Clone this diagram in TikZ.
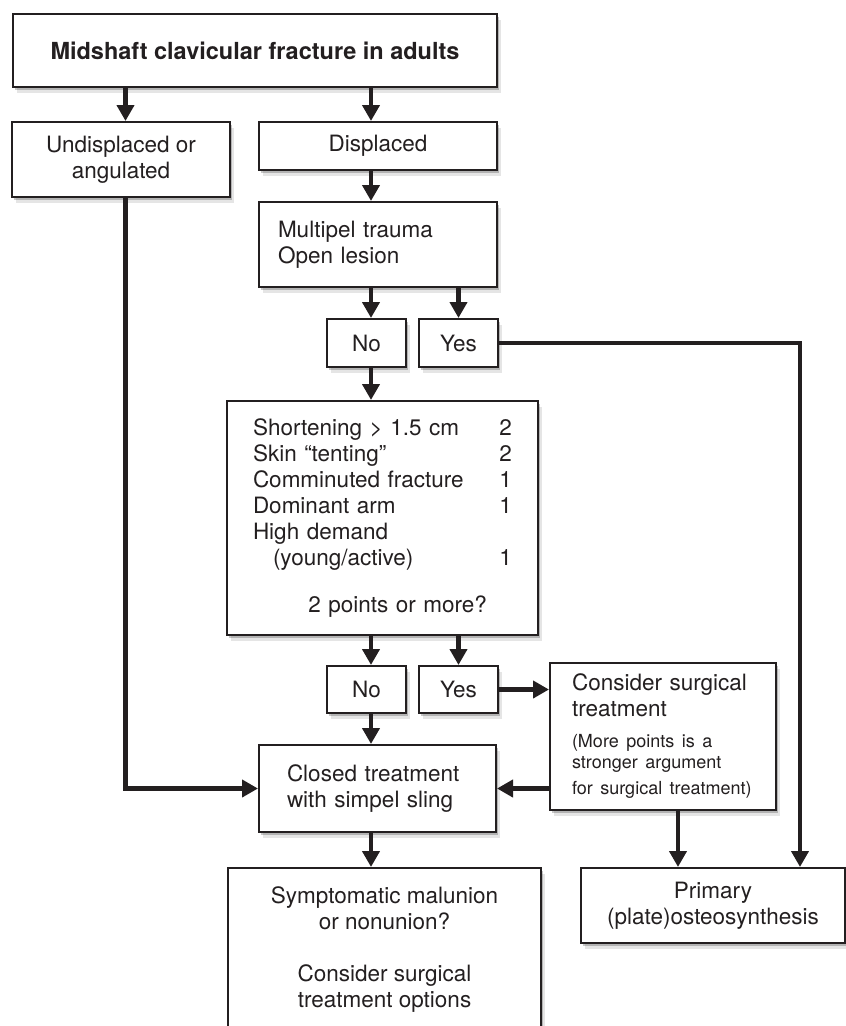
\documentclass[tikz,border=0pt]{standalone}
\usepackage{fontspec}
\setmainfont{TeX Gyre Heros}
\usetikzlibrary{arrows.meta, shadows}
\definecolor{ink}{RGB}{35,31,32}

\begin{document}
\begin{tikzpicture}[x=1pt, y=1pt]
\useasboundingbox (0,0) rectangle (846,-1026);
\clip (0,0) rectangle (846,-1026);

\coordinate (leftline) at (125.5,0);
\coordinate (axis) at (371,0);
\coordinate (surgline) at (678,0);
\coordinate (rightline) at (800,0);

\begin{scope}[every node/.style={rectangle,draw=ink,line width=2pt,fill=white,text=ink,inner sep=0pt,align=center,
              font=\fontsize{22.5}{26}\selectfont,
              drop shadow={shadow xshift=2pt,shadow yshift=-3pt,opacity=.22,fill=black},
              drop shadow={shadow xshift=4pt,shadow yshift=-6pt,opacity=.1,fill=black}}]
    \node (fracture) at (255, -50.5) [minimum width=484pt, minimum height=73pt, font=\fontsize{23.5}{26}\selectfont\bfseries] {Midshaft clavicular fracture in adults};

    \node (undisplaced) at (121, -159.5) [minimum width=218pt, minimum height=75pt] {Undisplaced or\\angulated};
    \node (displaced) at (378, -146) [minimum width=238pt, minimum height=48pt] {Displaced};

    \node (trauma) at (378, -244.5) [minimum width=238pt, minimum height=85pt, text width=200pt, align=left] {Multipel trauma\\Open lesion};

    \node (no1) at (366.5, -343) [minimum width=79pt, minimum height=48pt] {No};
    \node (yes1) at (458.5, -343) [minimum width=79pt, minimum height=48pt] {Yes};

    \node (score) at (382.5, -518) [minimum width=311pt, minimum height=234pt, text width=259pt, align=left]
        {Shortening > 1.5 cm\hfill 2\hspace*{12pt}\\
         Skin “tenting”\hfill 2\hspace*{12pt}\\
         Comminuted fracture\hfill 1\hspace*{12pt}\\
         Dominant arm\hfill 1\hspace*{12pt}\\
         High demand\\
         \hspace*{20pt}(young/active)\hfill 1\hspace*{12pt}\\[21pt]
         \mbox{}\hfill 2 points or more?\hspace*{25pt}};

    \node (no2) at (366.5, -689.5) [minimum width=79pt, minimum height=47pt] {No};
    \node (yes2) at (458.5, -689.5) [minimum width=79pt, minimum height=47pt] {Yes};

    \node (surgery) at (663, -736.5) [minimum width=226pt, minimum height=147pt, text width=182pt, align=left]
        {Consider surgical\\treatment\par\vspace{9pt}
         \fontsize{18}{21.5}\selectfont (More points is a\\stronger argument\\for surgical treatment)};

    \node (closed) at (377.5, -788.5) [minimum width=237pt, minimum height=87pt, text width=181pt, align=left] {Closed treatment\\with simpel sling};

    \node (malunion) at (384.5, -949.5) [minimum width=313pt, minimum height=163pt] {Symptomatic malunion\\or nonunion?\\[26pt]Consider surgical\\treatment options};
    \node (osteo) at (713, -905.5) [minimum width=264pt, minimum height=75pt] {Primary\\(plate)osteosynthesis};
\end{scope}

\begin{scope}[>={Triangle[length=16pt,width=17pt]}, line width=4.2pt, draw=ink]
    \draw [->] (fracture.south -| leftline) -- (undisplaced.north -| leftline);
    \draw [->] (fracture.south -| axis) -- (displaced.north -| axis);
    \draw [->] (displaced.south -| axis) -- (trauma.north -| axis);

    \draw [->] (trauma.south -| axis) -- (no1.north -| axis);
    \draw [->] (trauma.south -| yes1) -- (yes1.north);
    \draw [->] (yes1.east) -- (yes1.east -| rightline) -- (osteo.north -| rightline);

    \draw [->] (no1.south -| axis) -- (score.north -| axis);
    \draw [->] (score.south -| axis) -- (no2.north -| axis);
    \draw [->] (score.south -| yes2) -- (yes2.north);
    \draw [->] (yes2.east) -- (yes2.east -| surgery.west);

    \draw [->] (no2.south -| axis) -- (closed.north -| axis);
    \draw [->] (undisplaced.south -| leftline) |- (closed.west);
    \draw [->] (surgery.west |- closed.east) -- (closed.east);
    \draw [->] (surgery.south -| surgline) -- (osteo.north -| surgline);
    \draw [->] (closed.south -| axis) -- (malunion.north -| axis);
\end{scope}
\end{tikzpicture}
\end{document}
